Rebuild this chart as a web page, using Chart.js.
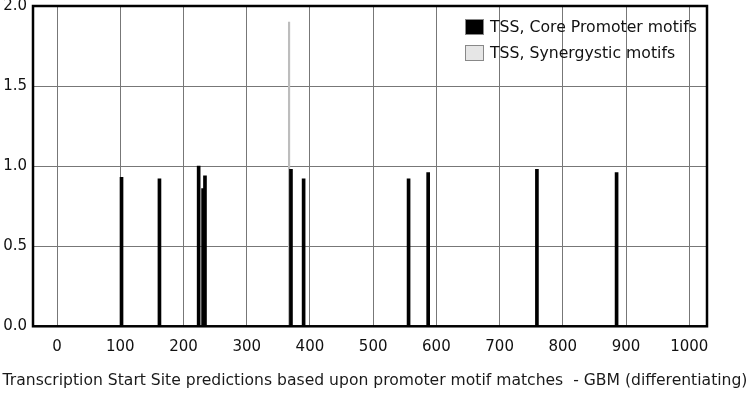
<!doctype html>
<html lang="en">
<head>
    <meta charset="UTF-8">
    <script src="https://cdn.jsdelivr.net/npm/chart.js"></script>
    <title>TSS predictions - GBM (differentiating)</title>
    <style>
        body { margin: 0; background: #fff; }
        #wrap { width: 750px; height: 395px; }
    </style>
</head>
<body>
    <div id="wrap"><canvas id="chart"></canvas></div>
    <script>
        // positions and scores
        const coreSites = [102, 162, 224, 231, 234, 370, 390, 556, 587, 759, 885];
        const coreScores = [0.93, 0.92, 1.0, 0.86, 0.94, 0.98, 0.92, 0.92, 0.96, 0.98, 0.96];
        const synergySites = [367];
        const synergyScores = [1.9];
        const seriesNames = ['TSS, Core Promoter motifs', 'TSS, Synergystic motifs'];
        const titleText = 'Transcription Start Site predictions based upon promoter motif matches  - GBM (differentiating)';

        const fontFamily = '"DejaVu Sans", Verdana, sans-serif';

        const frame = {
            id: 'frame',
            afterDraw(chart) {
                const a = chart.chartArea, ctx = chart.ctx;
                ctx.save();
                ctx.strokeStyle = '#000';
                ctx.lineWidth = 2.5;
                ctx.strokeRect(a.left, a.top, a.right - a.left, a.bottom - a.top);

                // legend sits inside the plot, top right
                ctx.font = '15.7px ' + fontFamily;
                ctx.textBaseline = 'middle';
                const fills = ['#000', '#e6e6e6'];
                const rows = [27, 53];
                seriesNames.forEach((name, i) => {
                    ctx.fillStyle = fills[i];
                    ctx.fillRect(466, rows[i] - 7, 17, 14);
                    ctx.strokeStyle = '#888';
                    ctx.lineWidth = 1;
                    ctx.strokeRect(465.5, rows[i] - 7.5, 18, 15);
                    ctx.fillStyle = '#111';
                    ctx.fillText(name, 490, rows[i] + 1);
                });
                ctx.restore();
            }
        };

        new Chart(document.getElementById('chart'), {
            type: 'bar',
            data: {
                datasets: [{
                    label: seriesNames[0],
                    data: coreSites.map((x, i) => ({x, y: coreScores[i]})),
                    backgroundColor: '#000',
                    barThickness: 3,
                    grouped: false
                }, {
                    label: seriesNames[1],
                    data: synergySites.map((x, i) => ({x, y: synergyScores[i]})),
                    backgroundColor: '#bdbdbd',
                    barThickness: 1.5,
                    grouped: false
                }]
            },
            options: {
                responsive: true,
                maintainAspectRatio: false,
                animation: false,
                layout: { padding: 0 },
                plugins: {
                    legend: { display: false },
                    tooltip: { enabled: false },
                    title: {
                        display: true,
                        position: 'bottom',
                        text: titleText,
                        color: '#1a1a1a',
                        font: { family: fontFamily, size: 15.6, weight: 'normal' },
                        padding: { top: 9, bottom: 5 }
                    }
                },
                scales: {
                    x: {
                        type: 'linear',
                        min: -38,
                        max: 1028,
                        offset: false,
                        afterFit: s => { s.height = 36; },
                        border: { display: false },
                        grid: { color: '#777', drawTicks: false, offset: false },
                        ticks: {
                            stepSize: 100,
                            includeBounds: false,
                            padding: 12,
                            color: '#111',
                            font: { family: fontFamily, size: 15 },
                            callback: v => String(v)
                        }
                    },
                    y: {
                        min: 0,
                        max: 2,
                        afterFit: s => {
                            s.width = 33;
                            s.paddingTop = 6;
                            s.paddingBottom = 0;
                        },
                        border: { display: false },
                        grid: { color: '#777', drawTicks: false },
                        ticks: {
                            stepSize: 0.5,
                            padding: 6,
                            color: '#111',
                            font: { family: fontFamily, size: 15 },
                            callback: v => v.toFixed(1)
                        }
                    },
                    // empty right axis, only keeps the white margin right of the plot
                    yRight: {
                        position: 'right',
                        min: 0,
                        max: 2,
                        afterFit: s => {
                            s.width = 43;
                            s.paddingTop = 0;
                            s.paddingBottom = 0;
                        },
                        border: { display: false },
                        grid: { display: false },
                        ticks: { display: false }
                    }
                }
            },
            plugins: [frame]
        });
    </script>
</body>
</html>
